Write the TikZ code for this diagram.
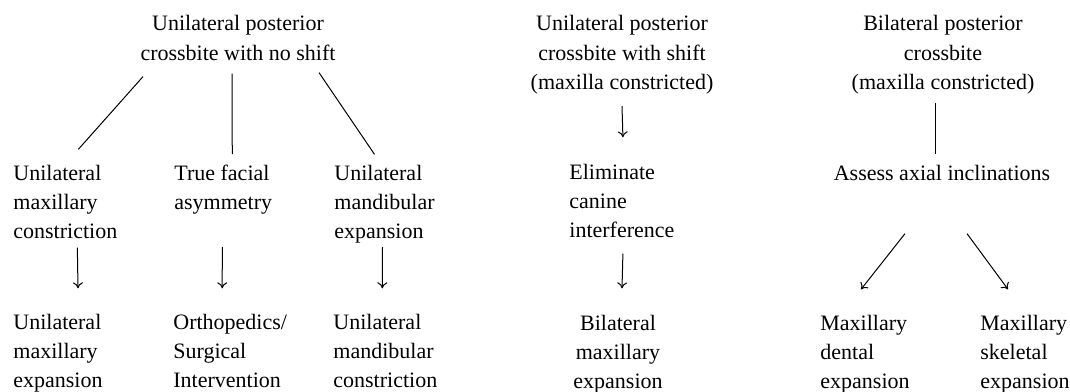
\documentclass[tikz,border=0pt]{standalone}
\usepackage{fontspec}
\setmainfont{Liberation Serif}
\usetikzlibrary{arrows.meta}

\begin{document}
\begin{tikzpicture}[x=0.5pt, y=-0.5pt,
		txt/.style={inner sep=0pt, font=\fontsize{11}{14.5}\selectfont},
		lft/.style={txt, align=left, anchor=base west},
		ctr/.style={txt, align=center, anchor=base},
		lnk/.style={line width=0.5pt},
		arr/.style={lnk, -{To[length=3pt, width=5pt]}}]
		\useasboundingbox (0,0) rectangle (1070,391);
		
		% crossbite with no shift
		\node[ctr] (noshift) at (238,60) {Unilateral posterior\\crossbite with no shift};
		\node[lft] (maxcon) at (13,238) {Unilateral\\maxillary\\constriction};
		\node[lft] (asym) at (174,209) {True facial\\asymmetry};
		\node[lft] (mandexp) at (334,238) {Unilateral\\mandibular\\expansion};
		\node[lft] (maxexp) at (13,387) {Unilateral\\maxillary\\expansion};
		\node[lft] (surg) at (173,387) {Orthopedics/\\Surgical\\Intervention};
		\node[lft] (mandcon) at (333,387) {Unilateral\\mandibular\\constriction};
		
		% crossbite with shift
		\node[ctr] (shift) at (622,89) {Unilateral posterior\\crossbite with shift\\(maxilla constricted)};
		\node[lft] (canine) at (569,237) {Eliminate\\canine\\interference};
		\node[ctr] (bilexp) at (618,388) {Bilateral\\maxillary\\expansion};
		
		% bilateral crossbite
		\node[ctr] (bilat) at (943,89) {Bilateral posterior\\crossbite\\(maxilla constricted)};
		\node[ctr] (axial) at (942,180) {Assess axial inclinations};
		\node[lft] (dental) at (820,388) {Maxillary\\dental\\expansion};
		\node[lft] (skel) at (980,388) {Maxillary\\skeletal\\expansion};
		
		\draw[lnk] ([xshift=-47.5pt, yshift=-8pt]noshift.south) -- ([xshift=6.5pt, yshift=7.5pt]maxcon.north);
		\draw[lnk] ([xshift=-3pt, yshift=-6.5pt]noshift.south) -- ([xshift=4.5pt, yshift=5pt]asym.north);
		\draw[lnk] ([xshift=40.5pt, yshift=-6pt]noshift.south) -- ([xshift=-5pt, yshift=5pt]mandexp.north);
		
		\draw[arr] ([xshift=6pt, yshift=-4.5pt]maxcon.south) -- ([xshift=10pt, yshift=12.5pt]maxexp.north);
		\draw[arr] ([xshift=-0.5pt, yshift=-16.5pt]asym.south) -- ([xshift=-4pt, yshift=12.5pt]surg.north);
		\draw[arr] ([xshift=-1pt, yshift=-2pt]mandexp.south) -- ([xshift=-1.5pt, yshift=12.5pt]mandcon.north);
		
		\draw[arr] ([yshift=-6pt]shift.south) -- ([xshift=0.5pt, yshift=13pt]canine.north);
		\draw[arr] ([xshift=0.5pt, yshift=-8pt]canine.south) -- ([xshift=2pt, yshift=13pt]bilexp.north);
		
		\draw[lnk] ([xshift=-4pt, yshift=-4.5pt]bilat.south) -- ([xshift=-3.5pt, yshift=5pt]axial.north);
		\draw[arr] ([xshift=-18.5pt, yshift=-26.5pt]axial.south) -- ([xshift=-2pt, yshift=12.5pt]dental.north);
		\draw[arr] ([xshift=12.5pt, yshift=-26.5pt]axial.south) -- ([xshift=-8.5pt, yshift=12.5pt]skel.north);
	\end{tikzpicture}
\end{document}
